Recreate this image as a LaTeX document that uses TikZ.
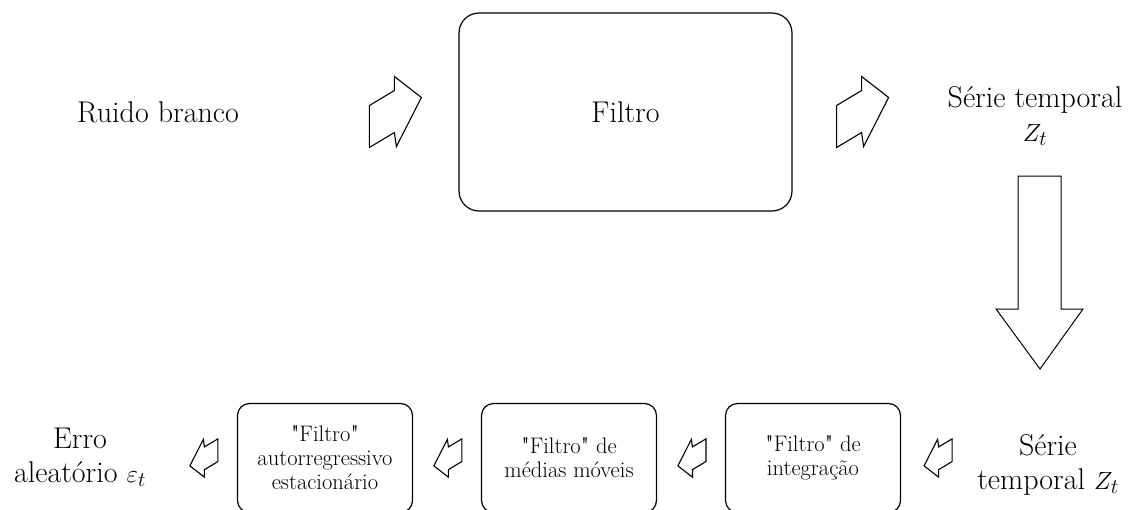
\documentclass[tikz,border=0pt]{standalone}
\usepackage{tikz}
\usetikzlibrary{calc,positioning}
\font\quotefont="[lmroman10-regular.otf]" at 22.5pt
\newcommand{\sq}{{\quotefont\char34}}
\tikzstyle{bigtext}=[font=\fontsize{30}{34}\selectfont,align=center,inner sep=0pt]
\tikzstyle{smalltext}=[font=\fontsize{22.5}{24}\selectfont,align=center]
\tikzstyle{filterbox}=[draw,line width=1.2pt,rounded corners=20pt,minimum width=333pt,minimum height=198pt,font=\fontsize{30}{34}\selectfont]
\tikzstyle{stagebox}=[draw,line width=1.2pt,rounded corners=12pt,minimum width=175pt,minimum height=109pt,smalltext]
\tikzstyle{fatarrow}=[draw,line width=1.1pt,line join=miter]
\newcommand{\notchedarrow}[2]{%
  \draw[fatarrow,shift={(#1)},#2] (-26,-6.5) -- (-1,-21.5) -- (-1,-35.5) -- (26,-14.5) -- (1,34.5) -- (-1,20.5) -- (-26,35.5) -- cycle;}

\begin{document}
\begin{tikzpicture}[x=1pt,y=-1pt]
\useasboundingbox (0,0) rectangle (1137,509);

% upper row
\node [bigtext] (ruido) at (158,112) {Ruido branco};
\node [filterbox] (filtro) at (625.5,112) {Filtro};
\node [bigtext] (serietop) at (1035,116) {Série temporal\\$Z_t$};
\coordinate [left=63pt of filtro] (p1);
\coordinate [right=70pt of filtro] (p2);
\notchedarrow{p1}{}
\notchedarrow{p2}{}

% lower row
\node [bigtext] (erro) at (80,457) {Erro\\aleatório $\varepsilon_t$};
\node [stagebox] (ar) at (325,458) {\sq Filtro\sq\\autorregressivo\\estacionário};
\node [stagebox] (ma) at (569,458) {\sq Filtro\sq{} de\\médias móveis};
\node [stagebox] (integ) at (813,458) {\sq Filtro\sq{} de\\integração};
\node [bigtext] (seriebot) at (1048,465) {Série\\temporal $Z_t$};
\coordinate [left=33pt of ar] (q1);
\coordinate [left=33pt of ma] (q2);
\coordinate [left=33pt of integ] (q3);
\coordinate [right=37pt of integ] (q4);
\foreach \q in {q1,q2,q3,q4}{
  \notchedarrow{\q}{rotate=180,scale=0.54}
}

% big arrow down
\draw [fatarrow,line width=1pt] (1018,176) -- (1061,176) -- (1061,309) -- (1083,309) -- (1040,369) -- (996,309) -- (1018,309) -- cycle;
\end{tikzpicture}
\end{document}
